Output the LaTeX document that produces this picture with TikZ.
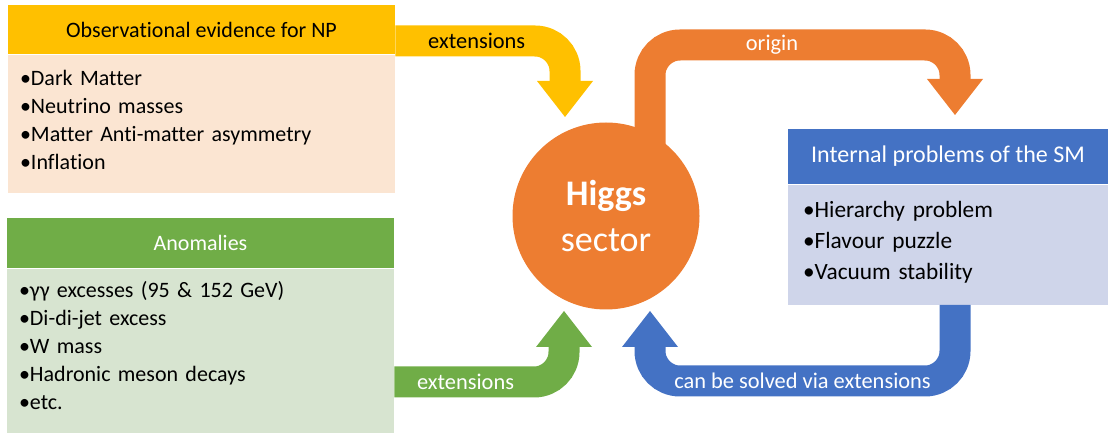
\documentclass[tikz,border=0pt]{standalone}
\usepackage{fontspec}
\setmainfont{Carlito}[Ligatures=NoCommon]
\usepackage{tikz}
\usetikzlibrary{
    positioning,
    arrows.meta,
    calc
}
\definecolor{GoldHead}{RGB}{255,192,0}
\definecolor{PeachBody}{RGB}{251,229,210}
\definecolor{HiggsOrange}{RGB}{237,125,49}
\definecolor{AnomGreen}{RGB}{112,173,71}
\definecolor{AnomBody}{RGB}{215,228,208}
\definecolor{SmBlue}{RGB}{68,114,196}
\definecolor{SmBody}{RGB}{207,213,234}

\begin{document}
\begin{tikzpicture}[
            x=0.75pt, y=-0.75pt,
            font=\fontsize{16.5}{21}\selectfont,
            headbox/.style={rectangle, inner sep=0pt},
            bodybox/.style={rectangle, inner xsep=9pt, inner ysep=0pt, align=left},
            bigarrow/.style={line width=23.25pt, rounded corners=22.5pt,
                -{Triangle[width=42pt, length=27pt, line width=0pt]}},
            arrowlabel/.style={font=\fontsize{16.8}{19}\selectfont},
        ]

        % Box sizes
        \def\boxW{290.25pt}
        \def\smW{240pt}

        \useasboundingbox (0,0) rectangle (1110,434);

        % Observational evidence
        \node[headbox, fill=GoldHead, minimum width=\boxW, minimum height=36.75pt] (obshead) at (201.5,29.5) {Observational evidence for NP};
        \node[bodybox, fill=PeachBody, text width=272.25pt, minimum height=103.5pt, below=0pt of obshead] (obsbody) {%
            •Dark Matter\\•Neutrino masses\\•Matter Anti-matter asymmetry\\•Inflation\rule[-6pt]{0pt}{0pt}};

        % Anomalies
        \node[headbox, fill=AnomGreen, text=white, minimum width=\boxW, minimum height=37.5pt] (anomhead) at (200.5,243) {Anomalies};
        \node[bodybox, fill=AnomBody, text width=272.25pt, minimum height=123pt, below=0pt of anomhead] (anombody) {%
            •γγ excesses (95 \& 152 GeV)\\•Di-di-jet excess\\•W mass\\•Hadronic meson decays\\•etc.\rule[-7.5pt]{0pt}{0pt}};

        % Internal problems of the SM
        \node[headbox, fill=SmBlue, text=white, minimum width=\smW, minimum height=41.25pt, font=\fontsize{18}{22}\selectfont] (inthead) at (948,156.5) {Internal problems of the SM};
        \node[bodybox, fill=SmBody, inner xsep=11.25pt, text width=217.5pt, minimum height=90pt, below=0pt of inthead, font=\fontsize{17.5}{23.25}\selectfont] (intbody) {%
            •Hierarchy problem\\•Flavour puzzle\\•Vacuum stability\rule[-6.5pt]{0pt}{0pt}};

        % Higgs sector
        \node[circle, fill=HiggsOrange, text=white, minimum size=140.25pt, inner sep=0pt, align=center, font=\fontsize{27}{35}\selectfont] (higgs) at (606,216) {\textbf{Higgs}\\sector};

        % Arrow tips
        \coordinate (yeltip) at (565,117);
        \coordinate (orgtip) at (955,115);
        \coordinate (greentip) at (564,311);
        \coordinate (bluetip) at (650,311);

        % Evidence into the Higgs sector
        \draw[bigarrow, GoldHead] (obshead.east |- 0,41) -| node[arrowlabel, pos=0.24, text=black] {extensions} (yeltip);

        % Higgs sector as origin
        \draw[bigarrow, HiggsOrange] ([xshift=33pt, yshift=49.5pt]higgs.center) |- node[arrowlabel, pos=0.7, text=white] {origin} (orgtip |- 0,45) -- (orgtip);

        % Anomalies into the Higgs sector
        \draw[bigarrow, AnomGreen] (anombody.east |- 0,382) -| node[arrowlabel, pos=0.21, text=white] {extensions} (greentip);

        % Problems solved back in the Higgs sector
        \draw[bigarrow, SmBlue] ([xshift=5.25pt]intbody.south) |- node[arrowlabel, pos=0.75, text=white] {can be solved via extensions} (bluetip |- 0,381) -- (bluetip);
\end{tikzpicture}
\end{document}
